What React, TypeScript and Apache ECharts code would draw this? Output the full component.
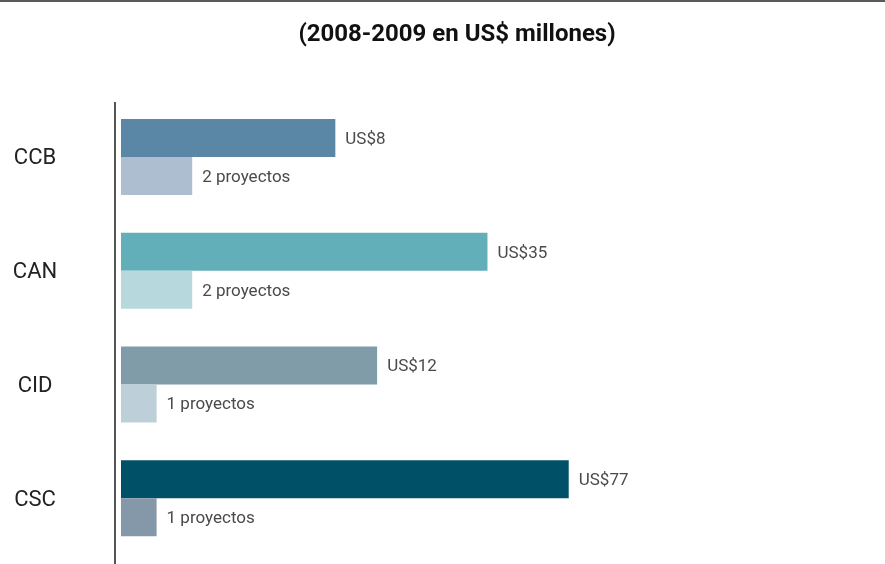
import React, { useEffect, useRef } from "react";
import * as echarts from "echarts";

const categories = ["CCB", "CAN", "CID", "CSC"];
const amounts = [8, 35, 12, 77];
const projects = [2, 2, 1, 1];
const amountColors = ["#5a87a5", "#62afba", "#7f9ca8", "#005068"];
const projectColors = ["#adbed0", "#b7d8dd", "#bdcfd8", "#8598a9"];
const title = "(2008-2009 en US$ millones)";

export default function App() {
  const ref = useRef<HTMLDivElement>(null);
  useEffect(() => {
    if (!ref.current) return;
    const chart = echarts.init(ref.current, null, { renderer: "svg" });
    const font = "Roboto";
    chart.setOption({
      animation: false,
      textStyle: { fontFamily: font },
      title: {
        text: title,
        left: 452,
        textAlign: "center",
        top: 16,
        textStyle: { fontSize: 24, fontWeight: "bold", color: "#111", fontFamily: font },
      },
      graphic: [
        { type: "line", shape: { x1: 0, y1: 1, x2: 885, y2: 1 }, style: { stroke: "#5a5a5a", lineWidth: 2 } },
        { type: "line", shape: { x1: 115, y1: 102, x2: 115, y2: 564 }, style: { stroke: "#555", lineWidth: 2 } },
      ],
      grid: { left: 121, right: 52, top: 100, bottom: 9, containLabel: false },
      xAxis: [
        { type: "log", logBase: 10, min: 1, max: 1000, show: false },
        { type: "value", min: 0, max: 20, show: false },
      ],
      yAxis: {
        type: "category",
        data: categories,
        inverse: true,
        axisLine: { show: false },
        axisTick: { show: false },
        splitLine: { show: false },
        axisLabel: { fontSize: 22, color: "#222", align: "center", margin: 86, fontFamily: font },
      },
      series: [
        {
          type: "bar",
          xAxisIndex: 0,
          barWidth: 38,
          barGap: "0%",
          data: amounts.map((v, i) => ({ value: v, itemStyle: { color: amountColors[i] } })),
          label: {
            show: true,
            position: "right",
            distance: 10,
            fontSize: 17,
            color: "#4a4a4a",
            fontFamily: font,
            formatter: (p: any) => "US$" + p.value,
          },
        },
        {
          type: "bar",
          xAxisIndex: 1,
          barWidth: 38,
          barGap: "0%",
          data: projects.map((v, i) => ({ value: v, itemStyle: { color: projectColors[i] } })),
          label: {
            show: true,
            position: "right",
            distance: 10,
            fontSize: 17,
            color: "#4a4a4a",
            fontFamily: font,
            formatter: (p: any) => p.value + " proyectos",
          },
        },
      ],
    });
    return () => chart.dispose();
  }, []);
  return <div ref={ref} style={{ position: "fixed", left: 0, top: 0, width: 885, height: 564 }} />;
}
